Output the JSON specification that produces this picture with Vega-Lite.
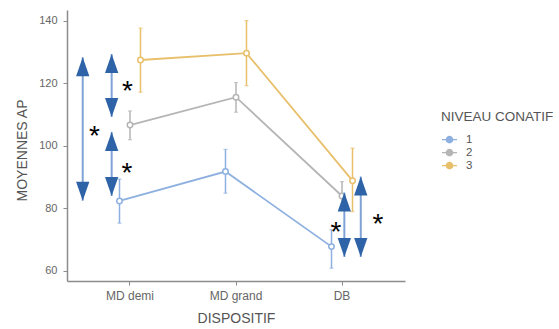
{
  "$schema": "https://vega.github.io/schema/vega-lite/v6.json",
  "autosize": "none",
  "width": 338,
  "height": 271,
  "padding": {"left": 67, "top": 10, "right": 154, "bottom": 48},
  "background": "white",
  "config": {
    "view": {"stroke": null},
    "font": "Liberation Sans",
    "axis": {
      "grid": false,
      "domainColor": "#8c8c8c",
      "domainWidth": 1.5,
      "tickColor": "#8c8c8c",
      "tickSize": 4,
      "labelColor": "#666666",
      "labelFontSize": 11,
      "titleColor": "#555555",
      "titleFontSize": 14,
      "titleFontWeight": "normal"
    }
  },
  "datasets": {
    "means": [
      {"dispositif": "MD demi", "niveau": "1", "m": 82.4, "lo": 75.3, "hi": 89.4},
      {"dispositif": "MD grand", "niveau": "1", "m": 91.8, "lo": 84.9, "hi": 98.9},
      {"dispositif": "DB", "niveau": "1", "m": 67.8, "lo": 60.9, "hi": 73.2},
      {"dispositif": "MD demi", "niveau": "2", "m": 106.7, "lo": 102.0, "hi": 111.2},
      {"dispositif": "MD grand", "niveau": "2", "m": 115.6, "lo": 110.8, "hi": 120.3},
      {"dispositif": "DB", "niveau": "2", "m": 84.0, "lo": 79.5, "hi": 88.6},
      {"dispositif": "MD demi", "niveau": "3", "m": 127.5, "lo": 117.2, "hi": 137.7},
      {"dispositif": "MD grand", "niveau": "3", "m": 129.7, "lo": 119.3, "hi": 140.1},
      {"dispositif": "DB", "niveau": "3", "m": 88.9, "lo": 79.0, "hi": 99.3}
    ],
    "arrows": [
      {"x": 0.554, "top": 128.4, "bot": 82.5},
      {"x": 0.827, "top": 129.4, "bot": 109.3},
      {"x": 0.827, "top": 104.5, "bot": 84.0},
      {"x": 3.022, "top": 85.1, "bot": 64.5},
      {"x": 3.177, "top": 90.2, "bot": 64.5}
    ],
    "stars": [
      {"x": 0.976, "y": 119.2, "t": "*"},
      {"x": 0.665, "y": 104.8, "t": "*"},
      {"x": 0.972, "y": 93.0, "t": "*"},
      {"x": 2.943, "y": 74.2, "t": "*"},
      {"x": 3.34, "y": 76.6, "t": "*"}
    ]
  },
  "layer": [
    {
      "data": {"name": "means"},
      "encoding": {
        "x": {
          "field": "dispositif", "type": "nominal",
          "sort": ["MD demi", "MD grand", "DB"],
          "scale": {"type": "band", "paddingInner": 0, "paddingOuter": 0.0943},
          "axis": {"title": "DISPOSITIF", "labelAngle": 0, "labelFontSize": 12, "titleY": 37, "titleBaseline": "middle", "labelPadding": 5}
        },
        "xOffset": {
          "field": "niveau", "type": "nominal",
          "scale": {"type": "band", "domain": ["1", "2", "3"], "paddingInner": 0, "paddingOuter": 0, "range": [37.25, 68.75]}
        },
        "color": {
          "field": "niveau", "type": "nominal",
          "scale": {"domain": ["1", "2", "3"], "range": ["#8db0e0", "#b5b5b5", "#e8bf6a"]},
          "legend": {
            "title": "NIVEAU CONATIF",
            "orient": "none",
            "legendX": 374,
            "legendY": 100,
            "titleFontSize": 13.5,
            "titleFontWeight": "normal",
            "titleColor": "#555555",
            "labelFontSize": 11.5,
            "labelColor": "#555555",
            "symbolSize": 64,
            "symbolStrokeWidth": 1.3,
            "symbolFillColor": "white",
            "labelOffset": 8,
            "rowPadding": 0,
            "clipHeight": 12.3,
            "titlePadding": 10,
            "encode": {
              "symbols": {
                "update": {
                  "shape": {"value": "M-1,0L-0.42,0M0.42,0L1,0M-0.42,0A0.42,0.42 0 1,1 0.42,0A0.42,0.42 0 1,1 -0.42,0"},
                  "fill": {"value": "white"},
                  "fillOpacity": {"value": 1},
                  "strokeWidth": {"value": 1.3},
                  "size": {"value": 225}
                }
              }
            }
          }
        }
      },
      "layer": [
        {
          "mark": {"type": "line", "strokeWidth": 1.8},
          "encoding": {
            "y": {
              "field": "m", "type": "quantitative",
              "scale": {"domain": [56.8, 143.5], "nice": false, "zero": false},
              "axis": {"title": "MOYENNES AP", "values": [60, 80, 100, 120, 140], "titleX": -45, "titleY": 140, "titleAngle": 270, "titleAlign": "center", "titleBaseline": "middle", "labelPadding": 6}
            }
          }
        },
        {
          "mark": {"type": "rule", "strokeWidth": 1.5},
          "encoding": {
            "y": {"field": "lo", "type": "quantitative"},
            "y2": {"field": "hi"}
          }
        },
        {
          "mark": {"type": "tick", "orient": "horizontal", "size": 4, "thickness": 1.2},
          "encoding": {"y": {"field": "lo", "type": "quantitative"}}
        },
        {
          "mark": {"type": "tick", "orient": "horizontal", "size": 4, "thickness": 1.2},
          "encoding": {"y": {"field": "hi", "type": "quantitative"}}
        },
        {
          "mark": {"type": "point", "shape": "circle", "filled": false, "fill": "white", "strokeWidth": 1.5, "size": 30, "opacity": 1},
          "encoding": {"y": {"field": "m", "type": "quantitative"}}
        }
      ]
    },
    {
      "encoding": {
        "x": {
          "field": "x", "type": "quantitative",
          "scale": {"domain": [0.4057, 3.5943], "nice": false, "zero": false},
          "axis": null
        }
      },
      "layer": [
        {
          "data": {"name": "arrows"},
          "mark": {"type": "rule", "color": "#7fa3d6", "strokeWidth": 2},
          "encoding": {
            "y": {"field": "top", "type": "quantitative"},
            "y2": {"field": "bot"}
          }
        },
        {
          "data": {"name": "arrows"},
          "mark": {"type": "point", "shape": "M0,-1L0.7,1L-0.7,1Z", "filled": true, "color": "#2f63a8", "size": 361, "opacity": 1, "yOffset": 9.5},
          "encoding": {"y": {"field": "top", "type": "quantitative"}}
        },
        {
          "data": {"name": "arrows"},
          "mark": {"type": "point", "shape": "M0,1L0.7,-1L-0.7,-1Z", "filled": true, "color": "#2f63a8", "size": 361, "opacity": 1, "yOffset": -9.5},
          "encoding": {"y": {"field": "bot", "type": "quantitative"}}
        },
        {
          "data": {"name": "stars"},
          "mark": {"type": "text", "fontSize": 28, "font": "Liberation Sans", "color": "black", "baseline": "alphabetic", "align": "center", "dy": 14},
          "encoding": {
            "y": {"field": "y", "type": "quantitative"},
            "text": {"field": "t"}
          }
        }
      ]
    }
  ],
  "resolve": {"scale": {"x": "independent"}, "axis": {"x": "independent"}}
}
